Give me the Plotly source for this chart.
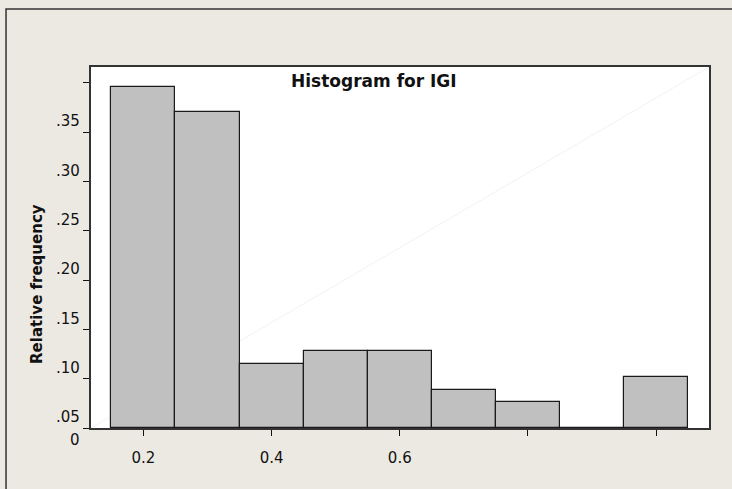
import plotly.graph_objects as go

# ---- data ----
BIN_CENTERS = [0.2, 0.3, 0.4, 0.5, 0.6, 0.7, 0.8, 0.9, 1.0]
REL_FREQ = [0.3458, 0.3201, 0.0652, 0.0777, 0.0777, 0.0388, 0.0264, 0.0, 0.052]
BIN_WIDTH = 0.1

X_TICK_VALUES = [0.2, 0.4, 0.6, 0.8, 1.0]
X_TICK_TEXT = ["0.2", "0.4", "0.6", "", ""]

Y_TICK_VALUES = [0, 0.05, 0.10, 0.15, 0.20, 0.25, 0.30, 0.35]
Y_LABEL_VALUES = [0.05, 0.10, 0.15, 0.20, 0.25, 0.30, 0.35]
Y_LABEL_TEXT = [".05", ".10", ".15", ".20", ".25", ".30", ".35"]
ZERO_LABEL = "0"

TITLE = "Histogram for IGI"
Y_TITLE = "Relative frequency"

# ---- style ----
FONT = "DejaVu Sans"
PAPER = "#ECE9E2"
BAR_FILL = "#C0C0C0"
X_RANGE = [0.1183, 1.0824]
Y_RANGE = [0, 0.3661]
LABEL_SHIFT = 0.039      # the reference draws y labels below their ticks
ZERO_LABEL_POS = -0.0122

fig = go.Figure()
fig.add_trace(go.Bar(
    x=BIN_CENTERS, y=REL_FREQ, width=BIN_WIDTH,
    marker=dict(color=BAR_FILL, line=dict(color="#1a1a1a", width=1.2)),
    showlegend=False, hoverinfo="skip",
))

label_font = dict(family=FONT, size=15, color="#111111")
annotations = []
for v, t in zip(Y_LABEL_VALUES, Y_LABEL_TEXT):
    annotations.append(dict(
        text=t, xref="x domain", x=0, xanchor="right", xshift=-9,
        yref="y", y=v - LABEL_SHIFT, yanchor="middle", showarrow=False,
        font=label_font,
    ))
annotations.append(dict(
    text=ZERO_LABEL, xref="x domain", x=0, xanchor="right", xshift=-9,
    yref="y domain", y=(ZERO_LABEL_POS - Y_RANGE[0]) / (Y_RANGE[1] - Y_RANGE[0]),
    yanchor="middle", showarrow=False, font=label_font,
))
annotations.append(dict(
    text="<b>" + Y_TITLE + "</b>", textangle=-90,
    xref="paper", x=-0.0874, xanchor="center",
    yref="paper", y=0.399, yanchor="middle", showarrow=False,
    font=dict(family=FONT, size=15, color="#111111"),
))
annotations.append(dict(
    text="<b>" + TITLE + "</b>",
    xref="paper", x=0.458, xanchor="center",
    yref="paper", y=0.962, yanchor="middle", showarrow=False,
    font=dict(family=FONT, size=17, color="#111111"),
))

fig.update_layout(
    width=732, height=489, autosize=False,
    margin=dict(l=91, r=23, t=67, b=61),
    paper_bgcolor=PAPER, plot_bgcolor="white",
    bargap=0,
    font=dict(family=FONT, size=15, color="#111111"),
    annotations=annotations,
    shapes=[
        dict(type="line", xref="x domain", yref="y domain",
             x0=0, y0=0, x1=1, y1=1,
             line=dict(color="#f2f2f2", width=1), layer="below"),
        dict(type="rect", xref="paper", yref="paper",
             x0=-0.1375, y0=1.1607, x1=1.3, y1=-0.6,
             line=dict(color="#333333", width=1.5), fillcolor="rgba(0,0,0,0)",
             layer="above"),
    ],
    xaxis=dict(
        range=X_RANGE, tickmode="array",
        tickvals=X_TICK_VALUES, ticktext=X_TICK_TEXT,
        ticks="outside", ticklen=6, tickwidth=1, tickcolor="#111111",
        ticklabelstandoff=9,
        showline=True, linecolor="#333333", linewidth=1.5, mirror=True,
        showgrid=False, zeroline=False,
        tickfont=label_font,
    ),
    yaxis=dict(
        range=Y_RANGE, tickmode="array", tickvals=Y_TICK_VALUES,
        showticklabels=False,
        ticks="outside", ticklen=6, tickwidth=1, tickcolor="#111111",
        showline=True, linecolor="#333333", linewidth=1.5, mirror=True,
        showgrid=False, zeroline=False,
    ),
)

fig.write_html(
    "out.html",
    config={"displayModeBar": False},
    post_script="document.body.style.margin='0';document.body.style.background='%s';" % PAPER,
)
